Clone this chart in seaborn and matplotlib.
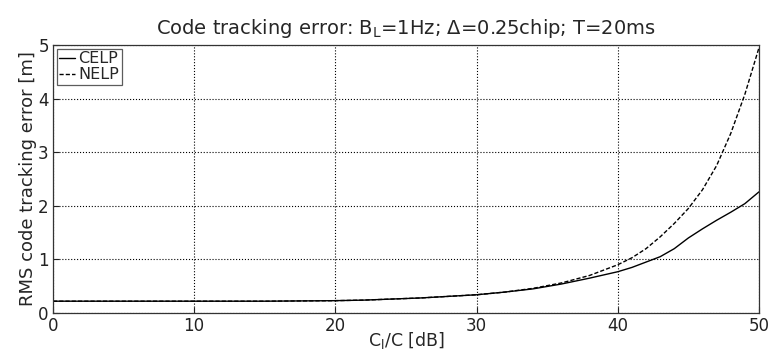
import numpy as np
import pandas as pd
import matplotlib
matplotlib.use("Agg")
import matplotlib.pyplot as plt
import seaborn as sns

cn0 = [0, 5, 10, 15, 20, 22, 24, 26, 28, 30, 32, 34, 36, 38, 40, 41, 42, 43, 44, 45, 46, 47, 48, 49, 50]
celp = [0.22, 0.22, 0.22, 0.22, 0.23, 0.24, 0.26, 0.28, 0.31, 0.34, 0.39, 0.45, 0.54, 0.65, 0.77,
        0.85, 0.95, 1.05, 1.2, 1.4, 1.57, 1.73, 1.88, 2.04, 2.26]
nelp = [0.22, 0.22, 0.22, 0.22, 0.23, 0.24, 0.26, 0.28, 0.31, 0.34, 0.39, 0.46, 0.56, 0.70, 0.90,
        1.03, 1.2, 1.42, 1.67, 1.95, 2.3, 2.75, 3.35, 4.08, 4.95]
series_names = ["CELP", "NELP"]
xticks = [0, 10, 20, 30, 40, 50]
yticks = [0, 1, 2, 3, 4, 5]

df = pd.DataFrame({
    "x": cn0 * 2,
    "y": celp + nelp,
    "series": [series_names[0]] * len(cn0) + [series_names[1]] * len(cn0),
})

sns.set_style("ticks")
plt.rcParams["font.family"] = ["DejaVu Sans"]
plt.rcParams["mathtext.fontset"] = "custom"
plt.rcParams["mathtext.rm"] = "DejaVu Sans"
plt.rcParams["mathtext.it"] = "DejaVu Sans"

fig = plt.figure(figsize=(7.70, 3.51), dpi=100)
ax = fig.add_axes([0.0688, 0.1083, 0.9169, 0.7635])

sns.lineplot(data=df, x="x", y="y", hue="series", style="series",
             palette=["black", "black"], dashes=[(None, None), (3, 1.5)],
             linewidth=1.0, ax=ax, legend=True)

ax.set_xlim(0, 50)
ax.set_ylim(0, 5)
ax.set_xticks(xticks)
ax.set_yticks(yticks)
ax.tick_params(direction="in", length=4, labelsize=12, colors="#222222")
ax.tick_params(axis="x", pad=3)
ax.tick_params(axis="y", pad=3)
ax.grid(True, linestyle=":", color="black", linewidth=0.8)
for s in ax.spines.values():
    s.set_visible(True)
    s.set_linewidth(0.9)
    s.set_color("#333333")

ax.set_title(r"Code tracking error: B$_\mathregular{L}$=1Hz; Δ=0.25chip; T=20ms",
             fontsize=14, pad=8)
ax.set_xlabel(r"C$_\mathregular{l}$/C [dB]", fontsize=12.5, labelpad=-4)
ax.set_ylabel("RMS code tracking error [m]", fontsize=13, labelpad=1)

leg = ax.legend(loc="upper left", fontsize=11.5, handlelength=1.0, handletextpad=0.2,
                borderpad=0.15, labelspacing=0.05, frameon=True, fancybox=False,
                borderaxespad=0.25)
leg.get_frame().set_edgecolor("#333333")
leg.get_frame().set_linewidth(0.9)
leg.set_title(None)

fig.savefig("out.png", dpi=100)
